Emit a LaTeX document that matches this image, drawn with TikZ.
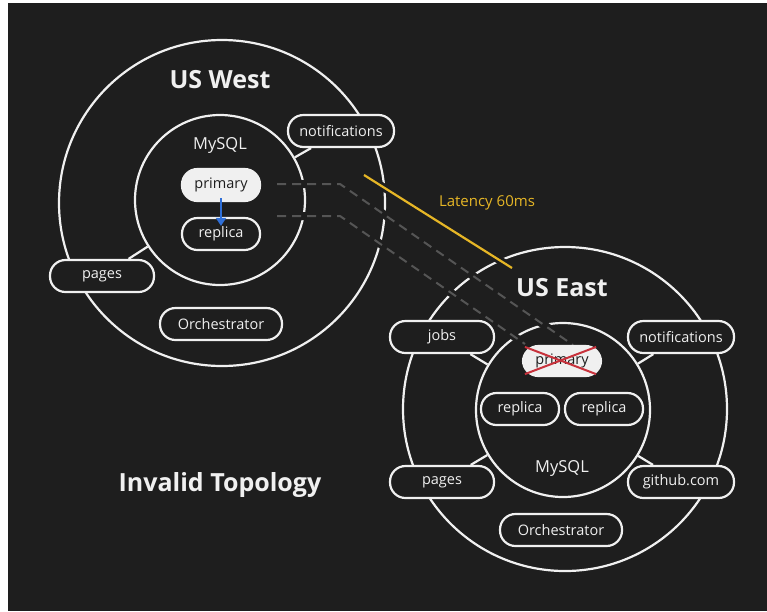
\documentclass[tikz,border=0pt]{standalone}
\usepackage{fontspec}
\setmainfont{Open Sans}
\usetikzlibrary{calc,arrows.meta}
\definecolor{bg}{HTML}{1E1E1E}
\definecolor{fg}{HTML}{F0F0F0}
\definecolor{dashgray}{HTML}{555555}
\definecolor{lat}{HTML}{E6B626}
\definecolor{blu}{HTML}{2F6FD8}
\definecolor{redx}{HTML}{C8323C}
\begin{document}
\begin{tikzpicture}[x=1pt,y=-1pt,
  ring/.style={circle, draw=fg, line width=2.2pt, inner sep=0pt},
  pill/.style={draw=fg, line width=2.2pt, fill=bg, rounded corners=15.5pt, minimum height=32pt, text=fg, font=\fontsize{14.5}{16}\selectfont, inner sep=0pt},
  pillw/.style={pill, fill=fg, text=bg},
  spoke/.style={draw=fg, line width=2.2pt},
  halo/.style={draw=bg, line width=8pt},
  dline/.style={draw=dashgray, line width=2pt, dash pattern=on 9pt off 6pt},
  title/.style={text=fg, font=\bfseries\fontsize{25}{28}\selectfont},
  lbl/.style={text=fg, font=\fontsize{16.5}{18}\selectfont}
]
\fill[white] (0,0) rectangle (767,611);
\fill[bg] (8,3) rectangle (767,611);
\useasboundingbox (0,0) rectangle (767,611);

% rings
\node[ring, minimum size=326pt] (outW) at (222,203) {};
\node[ring, minimum size=170pt] (inW) at (220,200) {};
\node[ring, minimum size=324pt] (outE) at (565,409) {};
\node[ring, minimum size=174pt] (inE) at (563,410) {};

% line ends
\coordinate (d1a) at (277,184);
\coordinate (d1b) at (340,184);
\coordinate (d1c) at (573,345);
\coordinate (d2a) at (277,216);
\coordinate (d2b) at (340,216);
\coordinate (d2c) at (525,344);
\coordinate (la) at (364,175);
\coordinate (lb) at (512,268);

% halos
\draw[halo] (d1a) -- (d1b) -- (d1c);
\draw[halo] (d2a) -- (d2b) -- (d2c);
\draw[halo] (la) -- (lb);
% lines
\draw[dline] (d1a) -- (d1b) -- (d1c);
\draw[dline] (d2a) -- (d2b) -- (d2c);
\draw[draw=lat, line width=2.2pt] (la) -- (lb);

% titles and labels
\node[title] (tW) at (220,80) {US West};
\node[title] (tE) at (562,288) {US East};
\node[title] (tI) at (220,485) {Invalid Topology};
\node[lbl] (mW) at (220,145) {MySQL};
\node[lbl] (mE) at (562,468) {MySQL};
\node[text=lat, font=\fontsize{15}{16}\selectfont] (lat) at (487,203) {Latency 60ms};

% west nodes
\node[pillw, minimum width=78pt] (pW) at (221,185) {primary};
\node[pill, minimum width=78pt] (rW) at (221,234) {replica};
\node[pill, minimum width=106pt] (nW) at (341,131) {notifications};
\node[pill, minimum width=104pt] (gW) at (102,276) {pages};
\node[pill, minimum width=122pt] (oW) at (221,324) {Orchestrator};
\path[spoke] (nW) -- (inW);
\path[spoke] (gW) -- (inW);

% east nodes
\node[pillw, minimum width=78pt, minimum height=30pt] (pE) at (562,361) {primary};
\node[pill, minimum width=78pt] (rE1) at (520,409) {replica};
\node[pill, minimum width=78pt] (rE2) at (604,409) {replica};
\node[pill, minimum width=104pt] (jE) at (442,337) {jobs};
\node[pill, minimum width=106pt] (nE) at (681,337) {notifications};
\node[pill, minimum width=104pt] (gE) at (442,482) {pages};
\node[pill, minimum width=106pt] (hE) at (681,482) {github.com};
\node[pill, minimum width=122pt] (oE) at (561,530) {Orchestrator};
\path[spoke] (jE) -- (inE);
\path[spoke] (nE) -- (inE);
\path[spoke] (gE) -- (inE);
\path[spoke] (hE) -- (inE);

% replication arrow
\draw[blu, line width=1.8pt, -{Triangle[length=8pt,width=10pt]}] ($(pW.south)+(0,-4)$) -- ($(rW.north)+(0,9)$);

% red cross
\draw[redx, line width=2pt] ($(pE.north west)+(3,2)$) -- ($(pE.south east)+(-6,-3)$);
\draw[redx, line width=2pt] ($(pE.south west)+(3,-3)$) -- ($(pE.north east)+(-6,2)$);
\end{tikzpicture}
\end{document}
